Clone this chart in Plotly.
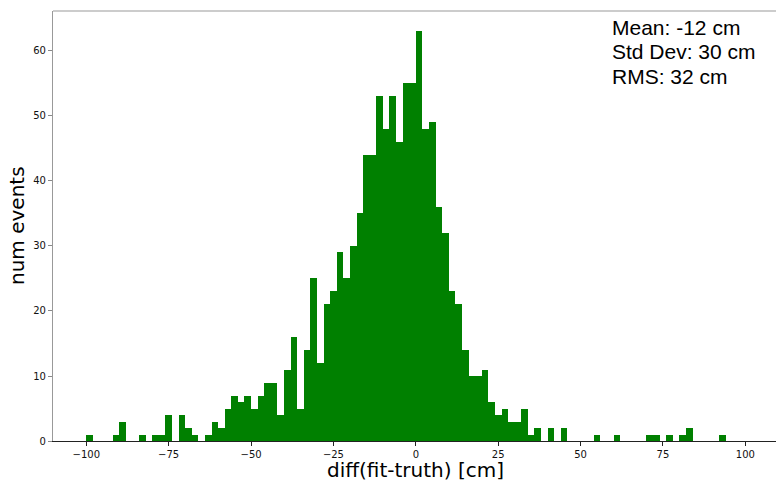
import numpy as np
import plotly.graph_objects as go

# Histogram of fit minus truth, 2 cm bins from -100 to 100 cm
bin_edges = np.arange(-100, 101, 2)
counts = [
    1, 0, 0, 0, 1, 3, 0, 0, 1, 0,
    1, 1, 4, 0, 4, 2, 1, 0, 1, 3,
    2, 5, 7, 6, 7, 5, 7, 9, 9, 4,
    11, 16, 5, 14, 25, 12, 21, 23, 29, 25,
    30, 35, 44, 44, 53, 48, 53, 46, 55, 55,
    63, 48, 49, 36, 32, 23, 21, 14, 10, 10,
    11, 6, 4, 5, 3, 3, 5, 1, 2, 0,
    2, 0, 2, 0, 0, 0, 0, 1, 0, 0,
    1, 0, 0, 0, 0, 1, 1, 0, 1, 0,
    1, 2, 0, 0, 0, 0, 1, 0, 0, 0,
]
stats_lines = ["Mean: -12 cm", "Std Dev: 30 cm", "RMS: 32 cm"]
x_ticks = [-100, -75, -50, -25, 0, 25, 50, 75, 100]
y_ticks = [0, 10, 20, 30, 40, 50, 60]
x_title = "diff(fit-truth) [cm]"
y_title = "num events"

centers = (bin_edges[:-1] + bin_edges[1:]) / 2
widths = np.diff(bin_edges)

W, H = 776, 480
ML, MR, MT, MB = 53, 0, 11, 39
plot_h = H - MT - MB
plot_w = W - ML - MR

tick_font = dict(family="DejaVu Sans", size=10, color="#111111")

fig = go.Figure()
fig.add_trace(go.Bar(
    x=centers, y=counts, width=widths,
    marker=dict(color="#008000", line=dict(width=0)),
    hoverinfo="x+y",
))

def py(ypix):
    return (H - MB - ypix) / plot_h

def px(xpix):
    return (xpix - ML) / plot_w

annotations = []
for i, line in enumerate(stats_lines):
    annotations.append(dict(
        text=line, xref="paper", yref="paper",
        x=px(610), y=py(27 + 24.5 * i),
        xanchor="left", yanchor="middle", showarrow=False,
        font=dict(family="Liberation Sans, Arial", size=21, color="#000000"),
    ))
annotations.append(dict(
    text=x_title, xref="paper", yref="paper",
    x=px(415), y=py(470), xanchor="center", yanchor="middle",
    showarrow=False, font=dict(family="DejaVu Sans", size=20, color="#000000"),
))
annotations.append(dict(
    text=y_title, xref="paper", yref="paper",
    x=px(17), y=0.5, xanchor="center", yanchor="middle", textangle=-90,
    showarrow=False, font=dict(family="DejaVu Sans", size=20, color="#000000"),
))

fig.update_layout(
    width=W, height=H,
    margin=dict(l=ML, r=MR, t=MT, b=MB, pad=0),
    plot_bgcolor="white", paper_bgcolor="white",
    bargap=0, showlegend=False,
    annotations=annotations,
    shapes=[dict(type="line", xref="paper", yref="paper", x0=0, x1=1, y0=1, y1=1,
                 line=dict(color="#999999", width=1.2))],
    xaxis=dict(
        range=[-110.1, 109.3], tickvals=x_ticks, ticks="outside", ticklen=4,
        tickwidth=1, tickcolor="#222222", showline=True, linecolor="#222222",
        linewidth=1.2, showgrid=False, zeroline=False, tickfont=tick_font,
    ),
    yaxis=dict(
        range=[0, 66.15], tickvals=y_ticks, ticks="outside", ticklen=4,
        tickwidth=1, tickcolor="#888888", showline=True, linecolor="#999999",
        linewidth=1.2, showgrid=False, zeroline=False, tickfont=tick_font,
    ),
)

fig.write_html("out.html")
